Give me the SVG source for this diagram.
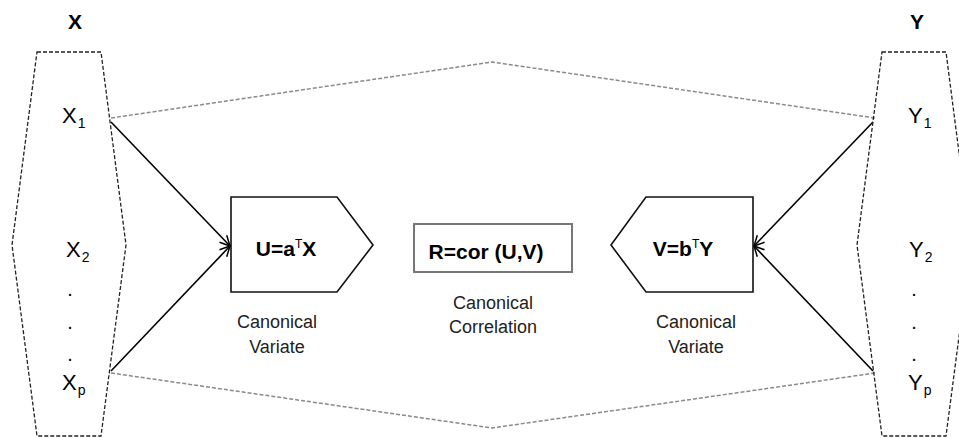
<svg xmlns="http://www.w3.org/2000/svg" width="959" height="438" viewBox="0 0 959 438">
<style>
.hex{fill:none;stroke:#222;stroke-width:1.3;stroke-dasharray:4 2}
.guide{fill:none;stroke:#8a8a8a;stroke-width:1.5;stroke-dasharray:4 2}
.arr{fill:none;stroke:#000;stroke-width:1.6;marker-end:url(#ah)}
.box{fill:#fff;stroke:#111;stroke-width:1.6}
.rbox{fill:#fff;stroke:#777;stroke-width:2}
.var{font-family:"Liberation Sans",Arial,sans-serif;font-size:22px;fill:#000}
.sub{font-size:14px}
.head{font-family:"Liberation Sans",Arial,sans-serif;font-size:21px;font-weight:bold;fill:#000}
.eq{font-family:"Liberation Sans",Arial,sans-serif;font-size:21px;font-weight:bold;fill:#000}
.sup{font-size:12px;font-weight:normal}
.cap{font-family:"Liberation Sans",Arial,sans-serif;font-size:18px;fill:#222}
.dot{font-family:"Liberation Sans",Arial,sans-serif;font-size:20px;fill:#000}
</style>
<defs>
<marker id="ah" viewBox="0 0 12 12" refX="11" refY="6" markerWidth="12" markerHeight="12" markerUnits="userSpaceOnUse" orient="auto">
<path d="M1,1 L11,6 L1,11" fill="none" stroke="#000" stroke-width="1.5"/>
</marker>
</defs>
<rect width="959" height="438" fill="#fff"/>
<g id="connectors">
<polyline class="guide" points="111,118 492,62 875,118"/>
<polyline class="guide" points="111,373 492,428 875,373"/>
<line class="arr" x1="111" y1="122" x2="230" y2="246"/>
<line class="arr" x1="111" y1="371" x2="230" y2="246"/>
<line class="arr" x1="873" y1="122" x2="754" y2="246"/>
<line class="arr" x1="873" y1="371" x2="754" y2="246"/>
</g>
<g id="X">
<text class="head" x="75" y="29" text-anchor="middle">X</text>
<polygon class="hex" points="37,52 101,52 126,245 101,436 37,436 12,245"/>
<text class="var" x="62" y="123">X<tspan class="sub" dx="1" dy="5">1</tspan></text>
<text class="var" x="66" y="257">X<tspan class="sub" dx="1" dy="5">2</tspan></text>
<text class="dot" x="70" y="296" text-anchor="middle">.</text>
<text class="dot" x="70" y="329" text-anchor="middle">.</text>
<text class="dot" x="70" y="361" text-anchor="middle">.</text>
<text class="var" x="62" y="390">X<tspan class="sub" dx="1" dy="5">p</tspan></text>
</g>
<g id="Y">
<text class="head" x="917" y="29" text-anchor="middle">Y</text>
<polygon class="hex" points="882,52 946,52 971,245 946,436 882,436 857,245"/>
<text class="var" x="908" y="123">Y<tspan class="sub" dx="1" dy="5">1</tspan></text>
<text class="var" x="909" y="257">Y<tspan class="sub" dx="1" dy="5">2</tspan></text>
<text class="dot" x="914" y="296" text-anchor="middle">.</text>
<text class="dot" x="914" y="329" text-anchor="middle">.</text>
<text class="dot" x="914" y="361" text-anchor="middle">.</text>
<text class="var" x="908" y="390">Y<tspan class="sub" dx="1" dy="5">p</tspan></text>
</g>
<g id="U">
<polygon class="box" points="231,197 337,197 373,245 337,292 231,292"/>
<text class="eq" x="286" y="256" text-anchor="middle">U=a<tspan class="sup" dy="-8">T</tspan><tspan dy="8">X</tspan></text>
<text class="cap" x="277" y="328" text-anchor="middle">Canonical</text>
<text class="cap" x="277" y="353" text-anchor="middle">Variate</text>
</g>
<g id="R">
<rect class="rbox" x="414" y="224" width="158" height="48"/>
<text class="eq" x="486" y="259" text-anchor="middle" style="font-size:21px">R=cor (U,V)</text>
<text class="cap" x="493" y="309" text-anchor="middle">Canonical</text>
<text class="cap" x="493" y="333" text-anchor="middle">Correlation</text>
</g>
<g id="V">
<polygon class="box" points="611,245 646,197 753,197 753,292 646,292"/>
<text class="eq" x="683" y="256" text-anchor="middle">V=b<tspan class="sup" dy="-8">T</tspan><tspan dy="8">Y</tspan></text>
<text class="cap" x="696" y="328" text-anchor="middle">Canonical</text>
<text class="cap" x="696" y="353" text-anchor="middle">Variate</text>
</g>
</svg>
